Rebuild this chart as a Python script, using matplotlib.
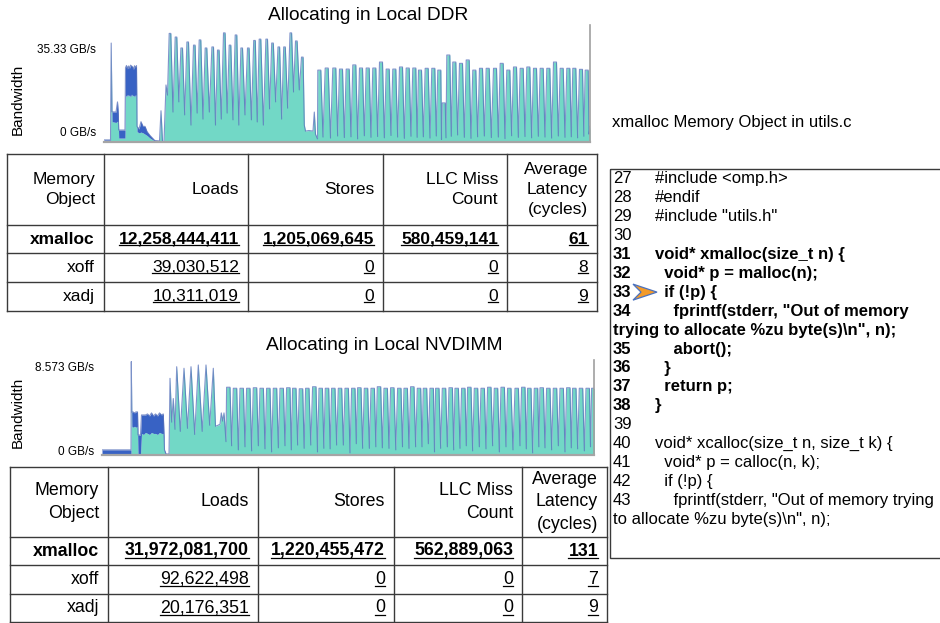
import numpy as np
import matplotlib
matplotlib.use("Agg")
import matplotlib.pyplot as plt
from matplotlib.patches import Polygon, Rectangle

plt.rcParams["font.family"] = ["Liberation Sans", "DejaVu Sans"]

W, H = 940, 623
TEAL = "#72d8c6"
BLUE = "#3862c4"
EDGE = "#5670ba"
GRID = "#3a3a3a"

# ---------------------------------------------------------------------------
# bandwidth traces (GB/s), time in trace samples
# ---------------------------------------------------------------------------
ddr_ticks = [0, 35.33]
ddr_tick_labels = ["0 GB/s", "35.33 GB/s"]

# start-up phase: teal = main traffic, blue = stacked second component
ddr_lead_t = [0, 6.5, 7.2, 8.0, 12.0, 13.5, 14.3, 14.7, 21.0,
              21.5, 22.5, 23.5, 24.5, 25.5, 26.5, 27.5, 28.5, 29.5, 30.5, 31.5, 32.5,
              33.0, 35.0, 37.0, 39.0, 41.0, 43.0, 46.0, 50.7, 55.5, 57.0, 58.5,
              60.0, 62.0, 63.5]
ddr_lead_teal = [0.4, 0.4, 38.0, 7.8, 7.5, 8.0, 7.8, 1.5, 1.5,
                 18.0, 17.4, 18.3, 17.6, 18.1, 17.2, 18.4, 17.7, 18.0, 17.3, 18.2, 17.8,
                 4.0, 3.5, 3.8, 3.5, 3.0, 2.5, 1.5, 0.4, 0.4, 12.0, 0.2,
                 0.2, 21.9, 18.0]
ddr_lead_blue = [0.4, 0.4, 0.0, 3.8, 4.0, 7.4, 3.0, 3.1, 3.1,
                 10.5, 12.0, 9.8, 11.6, 10.2, 12.3, 10.8, 11.2, 9.9, 12.0, 10.4, 11.5,
                 2.0, 1.5, 4.0, 2.5, 3.0, 1.5, 1.0, 0.2, 0.0, 0.0, 0.0,
                 0.0, 0.0, 0.0]

ddr_p1_t = [66, 72, 77.7, 83.7, 90.3, 96, 102, 108.7, 114.3, 120.3, 126, 132,
            137.7, 144.3, 150.5, 156, 162.7, 168.5, 174.8, 180.5, 186.8, 192.3, 198.3]
ddr_p1_peak = [41.7, 40.3, 36.1, 38.4, 37.2, 39.2, 36.1, 36.5, 35.3, 41.9, 37.2, 41.1,
               36.1, 36.1, 39.0, 39.5, 39.5, 38.0, 36.5, 36.5, 41.9, 38.8, 32.6]
ddr_p1_trough = [11.5, 15.4, 10.4, 6.5, 11.1, 8.8, 11.5, 6.5, 8.8, 11.1, 8.5,
                 6.5, 10.4, 8.5, 7.7, 6.5, 12.7, 15.4, 8.8, 13.0, 19.2, 20.0]

ddr_gap_t = [200.3, 201.5, 205.0, 209.0, 210.3, 211.5, 213.5]
ddr_gap_teal = [6.5, 4.2, 4.4, 4.2, 11.5, 3.0, 1.2]

ddr_p2_t = [215.3, 222.7, 230.3, 237, 243.7, 250.3, 257, 263.7, 270.3, 277,
            283.7, 290.3, 297, 303.7, 310.3, 316, 322.7, 329.3, 335.3, 339.7,
            344.3, 350.3, 357, 363.7, 370.3, 377, 383.7, 391, 397.7, 404.3,
            411, 417.7, 424.3, 431, 437.7, 444.3, 451, 457.7, 464.3, 470.3,
            477, 482.7]
ddr_p2_peak = [27.6, 28.4, 28.4, 28.0, 28.0, 29.6, 28.4, 28.4, 28.4, 30.7,
               28.0, 28.0, 28.8, 28.4, 28.4, 27.6, 28.3, 28.3, 27.6, 15.0,
               33.4, 30.7, 30.2, 31.5, 27.6, 28.3, 28.3, 28.3, 30.2, 27.6,
               28.8, 28.3, 28.8, 28.3, 28.3, 28.3, 30.7, 28.3, 28.3, 28.3,
               27.9, 27.6]
ddr_p2_trough = [1.9, 1.5, 2.3, 1.7, 2.0, 1.2, 2.4, 1.8, 2.1, 1.6,
                 2.5, 1.9, 1.4, 2.2, 1.8, 2.0, 1.5, 2.3, 1.0, 1.6,
                 2.2, 2.7, 1.8, 1.4, 2.0, 2.3, 1.7, 1.9, 1.3, 2.4,
                 1.8, 2.1, 1.6, 2.2, 1.9, 1.5, 2.3, 1.8, 2.0, 1.6, 2.2]
ddr_tail_t = [485.0, 486.0]
ddr_tail_teal = [3.0, 6.0]

nv_ticks = [0, 8.573]
nv_tick_labels = ["0 GB/s", "8.573 GB/s"]

nv_lead_t = [0, 28.5, 29.0, 29.3, 29.8, 31.0, 32.5, 34.0, 35.5, 36.0, 38.5,
             39.5, 41.5, 43.5, 45.5, 47.5, 49.5, 51.5, 53.5, 55.5, 57.5, 59.5,
             61.3, 62.5, 64.0, 66.0, 67.0]
nv_lead_teal = [0.1, 0.1, 0.1, 9.1, 2.8, 2.7, 2.8, 2.7, 2.8, 0.0, 0.0,
                2.1, 2.0, 2.2, 2.1, 2.0, 2.2, 2.1, 2.1, 2.0, 2.2, 2.1,
                2.1, 0.3, 0.1, 0.1, 0.0]
nv_lead_blue = [0.4, 0.4, 0.4, 0.0, 1.4, 1.5, 1.3, 1.5, 1.4, 1.95, 1.95,
                1.8, 1.9, 1.7, 1.9, 1.8, 1.9, 1.7, 1.9, 1.8, 1.9, 1.8,
                1.9, 0.2, 0.0, 0.0, 0.0]

nv_p1_t = [68.0, 69.7, 71.3, 73.0, 74.7, 78.3, 82.0, 85.5, 89.0, 92.7, 96.3,
           100.2, 104.0, 107.7, 111.3, 113.5, 116.0, 118.0, 119.3, 120.7, 122.0, 124.0]
nv_p1_teal = [7.47, 3.2, 5.5, 2.5, 8.6, 2.3, 8.45, 2.6, 8.6, 2.0, 8.77,
              2.3, 8.77, 2.9, 8.45, 2.8, 2.9, 3.0, 4.1, 3.3, 4.1, 1.3]

nv_p2_t = [126.3, 133, 139.7, 146.3, 153, 159.7, 166.3, 173, 179.7, 186.3,
           192.3, 199, 205.3, 212.3, 218.7, 225, 231.3, 238, 244.7, 251.3,
           257.3, 264, 270.7, 277, 283.7, 290.3, 297.3, 303.7, 310.3, 317,
           323, 329.7, 335.3, 342, 348.7, 354.7, 361.3, 367.3, 374, 380.7,
           387.3, 394, 400.7, 407.3, 414.7, 421.3, 427.3, 434, 439.7, 446.3,
           453, 459.7, 466.3, 472.3, 479, 485.7, 491.3]
nv_p2_peak = [6.6, 6.5, 6.5, 6.5, 6.55, 6.5, 6.5, 6.5, 6.5, 6.55,
              6.5, 6.45, 6.5, 6.65, 6.5, 6.5, 6.5, 6.5, 6.5, 6.5,
              6.55, 6.5, 6.5, 6.65, 6.5, 6.55, 6.5, 6.5, 6.65, 6.5,
              6.5, 6.5, 6.5, 6.5, 6.55, 6.5, 6.5, 6.6, 6.5, 6.5,
              6.6, 6.5, 6.6, 6.5, 6.5, 6.6, 6.5, 6.5, 6.55, 6.5,
              6.5, 6.5, 6.55, 6.5, 6.5, 6.5, 6.5]
nv_p2_trough = [0.9, 0.5, 0.8, 0.4, 0.9, 0.6, 0.3, 0.7, 0.9, 0.5,
                0.97, 0.65, 0.97, 0.3, 0.65, 0.6, 0.97, 0.97, 0.2, 1.1,
                0.65, 0.65, 0.8, 0.7, 0.65, 0.5, 0.8, 0.65, 0.8, 0.8,
                1.1, 0.3, 0.65, 0.8, 0.5, 0.65, 0.9, 0.4, 0.8, 0.6,
                0.9, 0.3, 0.8, 0.5, 0.9, 0.6, 0.2, 0.8, 0.7, 0.5,
                0.9, 0.3, 0.7, 0.6, 0.4, 0.8]

# ---------------------------------------------------------------------------
# tables
# ---------------------------------------------------------------------------
tab_header = ["Memory\nObject", "Loads", "Stores", "LLC Miss\nCount",
              "Average\nLatency\n(cycles)"]
objects = ["xmalloc", "xoff", "xadj"]
ddr_loads = ["12,258,444,411", "39,030,512", "10,311,019"]
ddr_stores = ["1,205,069,645", "0", "0"]
ddr_llc = ["580,459,141", "0", "0"]
ddr_lat = ["61", "8", "9"]
nv_loads = ["31,972,081,700", "92,622,498", "20,176,351"]
nv_stores = ["1,220,455,472", "0", "0"]
nv_llc = ["562,889,063", "0", "0"]
nv_lat = ["131", "7", "9"]

# ---------------------------------------------------------------------------
# source listing
# ---------------------------------------------------------------------------
code_caption = "xmalloc Memory Object in utils.c"
code_nums = ["27", "28", "29", "30", "31", "32", "33", "34", "", "35", "36",
             "37", "38", "39", "40", "41", "42", "43", ""]
code_lines = ["#include <omp.h>", "#endif", '#include "utils.h"', "",
              "void* xmalloc(size_t n) {", "  void* p = malloc(n);", "  if (!p) {",
              '    fprintf(stderr, "Out of memory',
              'trying to allocate %zu byte(s)\\n", n);',
              "    abort();", "  }", "  return p;", "}", "",
              "void* xcalloc(size_t n, size_t k) {", "  void* p = calloc(n, k);",
              "  if (!p) {", '    fprintf(stderr, "Out of memory trying',
              'to allocate %zu byte(s)\\n", n);']
code_bold = [False] * 4 + [True] * 9 + [False] * 6
code_mark_line = 6


def wave(tp, peaks, troughs, half):
    """peak / trough sequence, trough half way between consecutive peaks"""
    t, v = [], []
    for i, (tc, pk) in enumerate(zip(tp, peaks)):
        if half:
            t += [tc - half, tc + half]
            v += [pk, pk]
        else:
            t.append(tc)
            v.append(pk)
        if i < len(troughs):
            t.append(0.5 * (tc + tp[i + 1]))
            v.append(troughs[i])
    return t, v


def draw_trace(rect, t, teal, blue, xmax, ymax, ticks, labels, dys):
    ax = fig.add_axes([rect[0] / W, 1 - rect[3] / H,
                       (rect[2] - rect[0]) / W, (rect[3] - rect[1]) / H])
    t = np.asarray(t); teal = np.asarray(teal); blue = np.asarray(blue)
    top = teal + blue
    ax.fill_between(t, 0, teal, color=TEAL, lw=0)
    ax.fill_between(t, teal, top, color=BLUE, lw=0)
    ax.plot(t, top, color=EDGE, lw=0.8, alpha=0.75)
    ax.set_xlim(0, xmax)
    ax.set_ylim(0, ymax)
    ax.set_xticks([]); ax.set_yticks([])
    for s in ("top", "left"):
        ax.spines[s].set_visible(False)
    ax.spines["bottom"].set_color("#a5a5a5")
    ax.spines["bottom"].set_linewidth(1.6)
    ax.spines["right"].set_color("#a0a0a0")
    ax.spines["right"].set_linewidth(1.2)
    ax.patch.set_alpha(0)
    for val, lab, dy in zip(ticks, labels, dys):
        ax.annotate(lab, xy=(0, val), xycoords=("axes fraction", "data"),
                    xytext=(-8, dy), textcoords="offset pixels", ha="right",
                    va="center", fontsize=8.5, annotation_clip=False)
    return ax


fig = plt.figure(figsize=(W / 100, H / 100), dpi=100)

# DDR trace
p1t, p1v = wave(ddr_p1_t, ddr_p1_peak, ddr_p1_trough, 0.8)
p2t, p2v = wave(ddr_p2_t, ddr_p2_peak, ddr_p2_trough, 1.5)
d_t = ddr_lead_t + p1t + ddr_gap_t + p2t + ddr_tail_t
d_teal = ddr_lead_teal + p1v + ddr_gap_teal + p2v + ddr_tail_teal
d_blue = ddr_lead_blue + [0.0] * (len(d_t) - len(ddr_lead_t))
draw_trace((104, 25, 590, 142), d_t, d_teal, d_blue, 486, 117 / 2.604,
           ddr_ticks, ddr_tick_labels, [9, 0])

# NVDIMM trace
q2t, q2v = wave(nv_p2_t, nv_p2_peak, nv_p2_trough, 1.7)
n_t = nv_lead_t + nv_p1_t + q2t
n_teal = nv_lead_teal + nv_p1_teal + q2v
n_blue = nv_lead_blue + [0.0] * (len(n_t) - len(nv_lead_t))
draw_trace((102, 360, 594, 455), n_t, n_teal, n_blue, 492, 95 / 10.265,
           nv_ticks, nv_tick_labels, [3, -1])

# overlay in pixel coordinates for titles, tables and the listing
ov = fig.add_axes([0, 0, 1, 1])
ov.set_xlim(0, W)
ov.set_ylim(H, 0)
ov.axis("off")

ov.text(368, 15, "Allocating in Local DDR", ha="center", va="center", fontsize=13.8)
ov.text(384, 345, "Allocating in Local NVDIMM", ha="center", va="center", fontsize=13.8)
ov.text(18, 99, "Bandwidth", rotation=90, ha="center", va="center", fontsize=11)
ov.text(18, 412, "Bandwidth", rotation=90, ha="center", va="center", fontsize=11)

underlined = []


def draw_table(xs, ys, cols, fs, spacing):
    for x in xs:
        ov.plot([x, x], [ys[0], ys[-1]], color=GRID, lw=1.0)
    for y in ys:
        ov.plot([xs[0], xs[-1]], [y, y], color=GRID, lw=1.0)
    hy = 0.5 * (ys[0] + ys[1])
    for j, head in enumerate(tab_header):
        ov.text(xs[j + 1] - 9, hy, head, ha="right", va="center",
                multialignment="right", fontsize=fs, linespacing=spacing)
    for i in range(len(objects)):
        cy = 0.5 * (ys[i + 1] + ys[i + 2])
        wt = "bold" if i == 0 else "normal"
        for j, col in enumerate(cols):
            txt = ov.text(xs[j + 1] - 9, cy, col[i], ha="right", va="center",
                          fontsize=fs, fontweight=wt)
            if j > 0:
                underlined.append(txt)


draw_table([7, 104, 248, 383, 507, 597], [154, 225, 253, 282, 311],
           [objects, ddr_loads, ddr_stores, ddr_llc, ddr_lat], 12.5, 1.4)
draw_table([10, 108, 258, 394, 522, 607], [467, 537, 565, 594, 622],
           [objects, nv_loads, nv_stores, nv_llc, nv_lat], 12.8, 1.4)

# source listing panel
ov.text(612, 122, code_caption, ha="left", va="center", fontsize=12)
ov.add_patch(Rectangle((610, 169), 340, 389, fill=False, ec=GRID, lw=1.0))
for k, (num, line, bold) in enumerate(zip(code_nums, code_lines, code_bold)):
    y = 178.3 + 18.97 * k
    wt = "bold" if bold else "normal"
    if num:
        ov.text(613, y, num, ha="left", va="center", fontsize=12, fontweight=wt)
        ov.text(655, y, line, ha="left", va="center", fontsize=12, fontweight=wt)
    else:
        ov.text(613, y, line, ha="left", va="center", fontsize=12, fontweight=wt)
my = 178.3 + 18.97 * code_mark_line
ov.add_patch(Polygon([(633, my - 8), (657, my), (633, my + 8), (641, my)],
                     closed=True, fc="#f39a28", ec="#4a72c0", lw=0.9))

# underline the numeric cells
fig.canvas.draw()
inv = ov.transData.inverted()
for txt in underlined:
    bb = txt.get_window_extent()
    (x0, yb), (x1, _) = inv.transform([[bb.x0, bb.y0], [bb.x1, bb.y1]])
    ov.plot([x0, x1], [yb - 2.0, yb - 2.0], color="black", lw=0.9)

fig.savefig("out.png", dpi=100)
